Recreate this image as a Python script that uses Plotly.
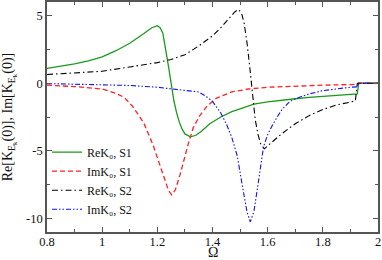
import plotly.graph_objects as go

# ReK0, S1 (green solid)
omega_re1 = [0.8, 0.85, 0.9, 0.95, 1.0, 1.05, 1.1, 1.15, 1.18, 1.2, 1.21, 1.22, 1.23, 1.24, 1.25,
             1.26, 1.27, 1.28, 1.29, 1.30, 1.32, 1.34, 1.36, 1.39, 1.43, 1.47, 1.5, 1.55, 1.6,
             1.65, 1.7, 1.75, 1.8, 1.85, 1.9, 1.925, 1.93, 2.0]
re_k0_s1 = [1.1, 1.25, 1.42, 1.65, 1.95, 2.4, 2.95, 3.65, 4.1, 4.25, 4.1, 3.7, 2.6, 1.3, 0.0,
            -1.3, -2.2, -2.9, -3.4, -3.75, -3.97, -3.85, -3.55, -3.0, -2.5, -2.1, -1.9, -1.55, -1.38,
            -1.25, -1.15, -1.05, -0.97, -0.9, -0.83, -0.8, 0.0, 0.0]

# ImK0, S1 (red dashed)
omega_im1 = [0.8, 0.9, 1.0, 1.05, 1.08, 1.11, 1.15, 1.185, 1.205, 1.221, 1.24, 1.252, 1.265,
             1.282, 1.3, 1.312, 1.33, 1.354, 1.38, 1.415, 1.47, 1.53, 1.6, 1.7, 1.8, 1.9, 1.925,
             1.93, 2.0]
im_k0_s1 = [-0.15, -0.25, -0.43, -0.75, -1.05, -1.7, -2.9, -4.6, -5.8, -6.8, -7.9, -8.25, -7.9,
            -6.8, -5.4, -4.5, -3.3, -2.4, -1.7, -1.1, -0.65, -0.43, -0.3, -0.2, -0.15, -0.1, -0.08,
            0.0, 0.0]

# ReK0, S2 (black dash-dot)
omega_re2 = [0.8, 0.9, 1.0, 1.1, 1.2, 1.25, 1.3, 1.35, 1.4, 1.43, 1.46, 1.48, 1.493, 1.505,
             1.515, 1.525, 1.535, 1.545, 1.555, 1.565, 1.575, 1.588, 1.6, 1.62, 1.65, 1.7, 1.75,
             1.8, 1.85, 1.9, 1.918, 1.925, 2.0]
re_k0_s2 = [0.64, 0.75, 0.88, 1.2, 1.52, 1.75, 2.1, 2.75, 3.5, 4.1, 4.75, 5.25, 5.45, 5.2,
            4.4, 3.0, 1.2, -0.9, -2.7, -3.8, -4.5, -4.85, -4.65, -4.25, -3.75, -3.0, -2.4,
            -1.95, -1.6, -1.4, -1.3, 0.0, 0.0]

# ImK0, S2 (blue dash-dot)
omega_im2 = [0.8, 0.9, 1.0, 1.1, 1.2, 1.3, 1.35, 1.375, 1.4, 1.43, 1.45, 1.47, 1.49, 1.51,
             1.525, 1.537, 1.55, 1.565, 1.585, 1.6, 1.62, 1.65, 1.68, 1.72, 1.75, 1.8, 1.85,
             1.9, 1.925, 1.93, 2.0]
im_k0_s2 = [-0.03, -0.07, -0.1, -0.17, -0.3, -0.5, -0.65, -0.95, -1.35, -2.2, -3.0, -4.0, -5.4,
            -7.8, -9.5, -10.25, -9.5, -7.5, -4.7, -3.8, -3.0, -2.0, -1.35, -1.0, -0.8, -0.55,
            -0.4, -0.3, -0.27, 0.0, 0.0]

x_tickvals = [0.8, 1.0, 1.2, 1.4, 1.6, 1.8, 2.0]
x_ticktext = ["0.8", "1", "1.2", "1.4", "1.6", "1.8", "2"]
y_tickvals = [5, 0, -5, -10]
y_ticktext = ["5", "0", "-5", "-10"]

FONT = "Liberation Serif"
AXCOL = "#555555"

fig = go.Figure()
fig.add_trace(go.Scatter(x=omega_re1, y=re_k0_s1, mode="lines", name="ReK₀, S1",
                         line=dict(color="#1a9a1a", width=1.3)))
fig.add_trace(go.Scatter(x=omega_im1, y=im_k0_s1, mode="lines", name="ImK₀, S1",
                         line=dict(color="#ff2020", width=1.3, dash="5px,3px")))
fig.add_trace(go.Scatter(x=omega_re2, y=re_k0_s2, mode="lines", name="ReK₀, S2",
                         line=dict(color="#000000", width=1.1, dash="6px,3px,1.5px,3px")))
fig.add_trace(go.Scatter(x=omega_im2, y=im_k0_s2, mode="lines", name="ImK₀, S2",
                         line=dict(color="#1010ff", width=1.1, dash="5px,2px,1.5px,2px,1.5px,2px")))

axis_common = dict(
    showline=True, linecolor=AXCOL, linewidth=1.5, mirror="ticks",
    ticks="inside", ticklen=5, tickcolor=AXCOL, tickwidth=1,
    showgrid=False, zeroline=False, automargin=False,
    tickfont=dict(family=FONT, size=12.5, color="#111"),
)

fig.update_xaxes(range=[0.8, 2.0], tickvals=x_tickvals, ticktext=x_ticktext,
                 ticklabelstandoff=-3,
                 minor=dict(ticks="inside", ticklen=3, tickcolor=AXCOL, dtick=0.1, tick0=0.8, showgrid=False),
                 **axis_common)
fig.update_yaxes(range=[-11, 6], tickvals=y_tickvals, ticktext=y_ticktext,
                 minor=dict(ticks="inside", ticklen=3, tickcolor=AXCOL, dtick=2.5, tick0=0, showgrid=False),
                 title=dict(text="Re[K<sub>E<sub>k</sub></sub>(0)], Im[K<sub>E<sub>k</sub></sub>(0)]",
                            font=dict(family=FONT, size=14, color="#111")),
                 **axis_common)

# x-axis title as an annotation so it sits below the tick labels like the reference
fig.add_annotation(text="Ω", xref="paper", yref="paper", x=0.5, y=-0.088,
                   xanchor="center", yanchor="middle", showarrow=False,
                   font=dict(family=FONT, size=14, color="#111"))

fig.update_layout(
    width=382, height=260,
    margin=dict(l=47, r=4, t=2, b=28),
    paper_bgcolor="white", plot_bgcolor="white",
    showlegend=True,
    legend=dict(x=0.0, y=0.41, xanchor="left", yanchor="top",
                bgcolor="rgba(0,0,0,0)", borderwidth=0,
                font=dict(family=FONT, size=12, color="#111"),
                itemwidth=30, tracegroupgap=0),
    font=dict(family=FONT),
)

fig.write_html("out.html", config={"displayModeBar": False},
               post_script="document.body.style.margin='0px';")
